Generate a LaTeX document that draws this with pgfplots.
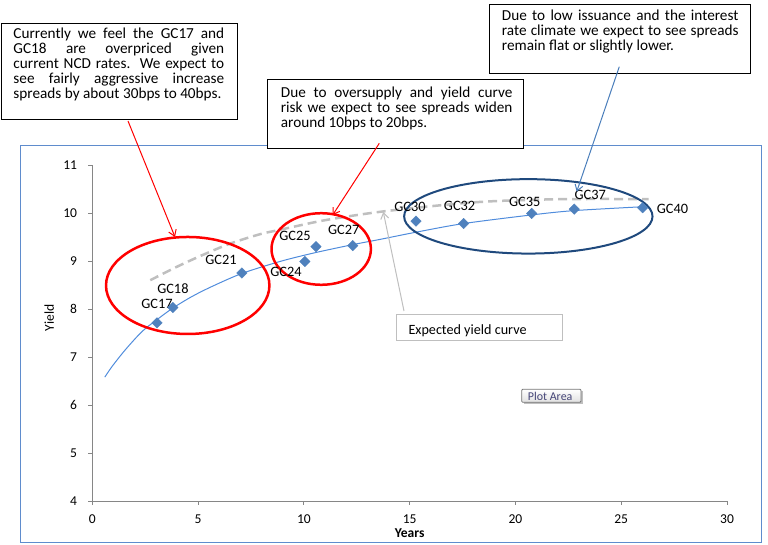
\documentclass[border=0pt]{standalone}
\usepackage{fontspec}
\setmainfont{Carlito}
\usepackage{pgfplots}
\pgfplotsset{compat=1.18}
\usepackage{pgfplotstable}
\usetikzlibrary{arrows.meta}

\definecolor{ptblue}{RGB}{79,129,189}
\definecolor{trendblue}{RGB}{80,140,220}
\definecolor{dashgray}{RGB}{191,191,191}
\definecolor{axisgray}{RGB}{134,134,134}
\definecolor{navyring}{RGB}{31,73,125}
\definecolor{framecol}{RGB}{95,140,205}
\definecolor{arrowblue}{RGB}{74,126,187}
\definecolor{tipgray}{RGB}{118,118,118}
\definecolor{tiptext}{RGB}{70,70,120}

\newcommand\ticksize{\fontsize{13.6pt}{16pt}\selectfont}
\newcommand\lblsize{\fontsize{14.4pt}{16pt}\selectfont}
\newcommand\boxsize{\fontsize{15.3pt}{14.85pt}\selectfont}

% bonds: term (years), yield, label and label offset (pt)
\pgfplotstableread{
x     y     label dx  dy
3.06  7.71  GC17  0   19
3.81  8.03  GC18  0   19
7.07  8.75  GC21  -21 13
10.05 8.99  GC24  -19 -10
10.57 9.30  GC25  -21 11
12.31 9.32  GC27  -9  16
15.30 9.83  GC30  -6  14
17.55 9.78  GC32  -4  18
20.77 9.99  GC35  -7  12
22.78 10.08 GC37  16  14
26.01 10.11 GC40  30  -1
}\bonds

% fitted curve as drawn
\pgfplotstableread{
x     y
0.59  6.58
0.93  6.80
1.56  7.15
2.35  7.53
3.06  7.78
3.81  8.02
4.71  8.26
5.66  8.47
7.07  8.74
8.87  8.99
10.5  9.17
12.3  9.34
13.6  9.45
15.3  9.60
17.55 9.78
20.77 9.96
22.78 10.05
26.0  10.13
}\trend

% expected yield curve
\pgfplotstableread{
x     y
2.74  8.60
4.0   8.88
5.19  9.12
6.5   9.36
7.94  9.56
8.87  9.65
11.0  9.85
13.7  10.03
17.4  10.20
19.7  10.26
22.6  10.29
26.3  10.29
}\expected

\begin{document}
\begin{tikzpicture}
\useasboundingbox (0,0) rectangle (768bp,545bp);
\begin{scope}[x=1bp,y=-1bp,yshift=545bp]
  \draw[framecol, line width=1bp] (20,145.5) rectangle (761,542.5);
\end{scope}

\begin{axis}[
    at={(92.3bp,44bp)}, anchor=south west,
    scale only axis, width=634.7bp, height=336bp,
    xmin=0, xmax=30, ymin=4, ymax=11,
    xtick={0,5,...,30}, ytick={4,5,...,11},
    axis lines*=left,
    axis line style={draw=axisgray, line width=0.8bp, -},
    tick style={draw=axisgray, line width=0.8bp},
    tick align=outside, major tick length=4bp,
    /pgf/number format/assume math mode=true,
    ticklabel style={font=\ticksize, inner sep=0pt},
    xticklabel style={anchor=north, yshift=-9.5bp},
    yticklabel style={anchor=east, xshift=-11bp},
    xlabel={\bfseries Years}, ylabel={Yield},
    label style={font=\ticksize},
    xlabel style={at={(axis description cs:0.5,-0.0943)}, anchor=center},
    ylabel style={at={(axis description cs:-0.0678,0.545)}, anchor=center},
    clip=false,
]
  \addplot[trendblue, line width=1bp, smooth] table[x=x, y=y] {\trend};

  \addplot[only marks, mark=square*, mark size=3.7bp,
           mark options={rotate=45, fill=ptblue, draw=ptblue},
           nodes near coords, point meta=explicit symbolic,
           visualization depends on={\thisrow{dx}\as\dx},
           visualization depends on={\thisrow{dy}\as\dy},
           every node near coord/.append style={anchor=center, inner sep=0pt,
             text=black, font=\lblsize, xshift=\dx, yshift=\dy}]
    table[x=x, y=y, meta=label] {\bonds};

  \addplot[dashgray, line width=2.5bp, dash pattern=on 9bp off 5bp, smooth]
    table[x=x, y=y] {\expected};

  \draw[red, line width=2.5bp] (axis cs:4.51,8.49) ellipse [x radius=81.7bp, y radius=48.5bp];
  \draw[red, line width=2.5bp] (axis cs:10.82,9.25) ellipse [x radius=49.7bp, y radius=35.8bp];
  \draw[navyring, line width=2bp] (axis cs:20.61,9.93) ellipse [x radius=124.2bp, y radius=37.2bp];
\end{axis}

\begin{scope}[x=1bp,y=-1bp,yshift=545bp]
  % comment boxes
  \draw[black, line width=1bp, fill=white] (1.7,23.3) rectangle (237.7,120);
  \node[anchor=north west, inner sep=0pt, text width=210.7bp, align=justify, font=\boxsize]
    at (13.3,28.2) {Currently we feel the GC17 and\linebreak GC18 are overpriced given\linebreak
    current NCD rates.\ \ We expect to\linebreak see fairly aggressive increase\linebreak
    spreads by about 30bps to 40bps.};

  \draw[black, line width=1bp, fill=white] (267.3,80) rectangle (523.3,148.3);
  \node[anchor=north west, inner sep=0pt, text width=231.6bp, align=justify, font=\boxsize]
    at (280.7,87) {Due to oversupply and yield curve\linebreak risk we expect to see spreads widen\linebreak
    around 10bps to 20bps.};

  \draw[black, line width=1bp, fill=white] (489.3,4.7) rectangle (750,74);
  \node[anchor=north west, inner sep=0pt, text width=236.6bp, align=justify, font=\boxsize]
    at (501.7,10.2) {Due to low issuance and the interest\linebreak rate climate we expect to see spreads\linebreak
    remain flat or slightly lower.};

  % arrows
  \draw[red, line width=1bp, -{Straight Barb[length=6bp, width=8bp]}] (128,121) -- (175,237);
  \draw[red, line width=1bp, -{Straight Barb[length=6bp, width=8bp]}] (379.3,143.3) -- (332.7,215);
  \draw[arrowblue, line width=1bp, -{Straight Barb[length=6bp, width=8bp]}] (619.3,66.7) -- (576.7,191.7);
  \draw[dashgray, line width=1bp, -{Straight Barb[length=6bp, width=8bp]}] (404,311) -- (383.3,212);

  % expected yield curve label
  \draw[dashgray, line width=1bp, fill=white] (396.7,315) rectangle (562.7,341);
  \node[anchor=base west, inner sep=0pt, font=\fontsize{14.2pt}{16pt}\selectfont]
    at (408.3,335) {Expected yield curve};

  % plot area tooltip
  \fill[black!25] (523.7,391.3) rectangle (583,404.3);
  \draw[tipgray, line width=0.8bp, top color=white, bottom color=black!12, rounded corners=1bp]
    (521.7,389.3) rectangle (581,402.3);
  \node[anchor=base west, inner sep=0pt, text=tiptext, font=\fontsize{12pt}{14pt}\selectfont]
    at (527.7,400.3) {Plot Area};
\end{scope}
\end{tikzpicture}
\end{document}
